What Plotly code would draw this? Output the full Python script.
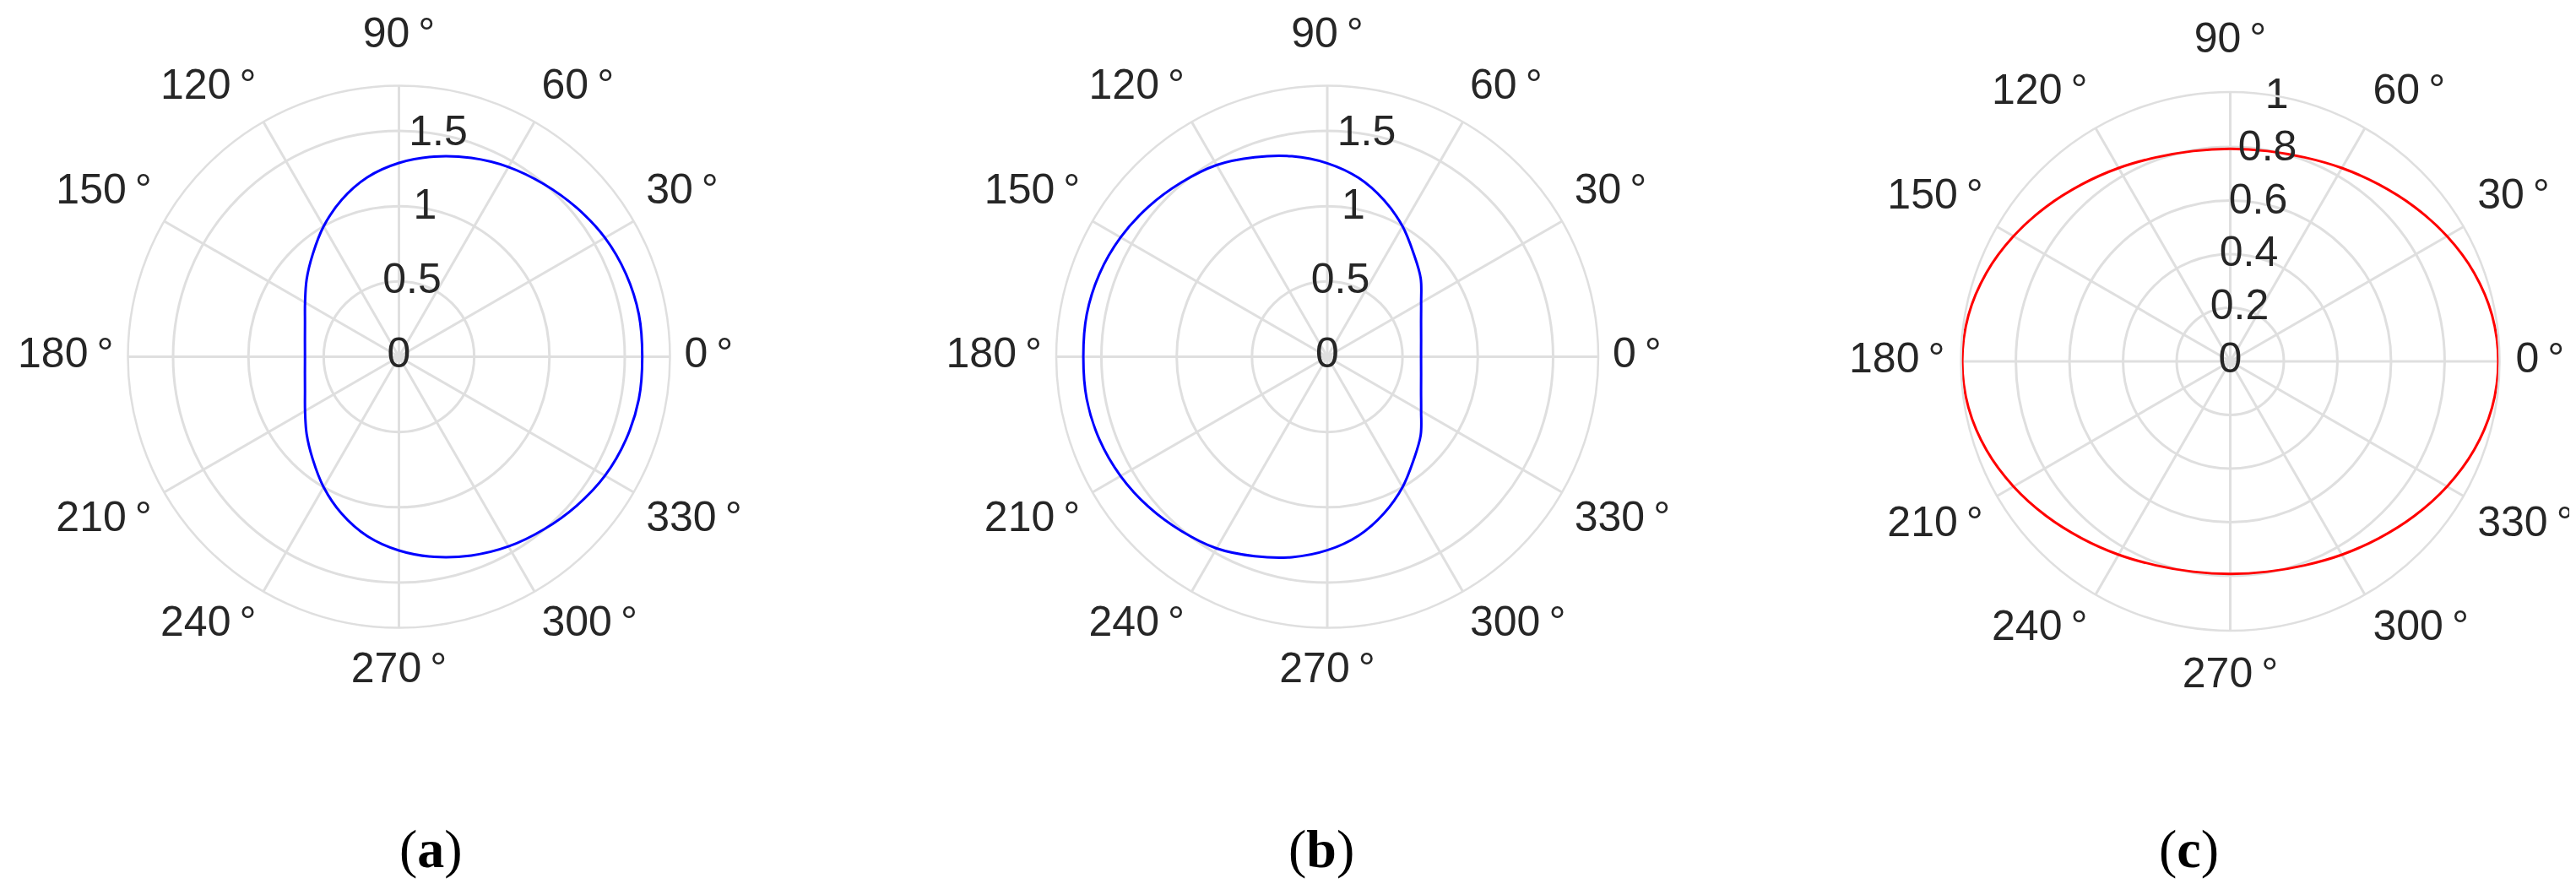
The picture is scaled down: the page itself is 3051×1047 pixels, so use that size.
import plotly.graph_objects as go

# angles (deg) at which the curves were read
theta_deg = [0, 10, 20, 30, 40, 50, 60, 70, 80, 90, 100, 110, 120, 130, 140, 150, 160, 170,
             180, 190, 200, 210, 220, 230, 240, 250, 260, 270, 280, 290, 300, 310, 320, 330, 340, 350]

# (a) blue, flat side on the left
r_a = [1.616, 1.618, 1.605, 1.58, 1.54, 1.497, 1.455, 1.405, 1.35, 1.287, 1.21, 1.11, 1.0, 0.89, 0.80, 0.72, 0.664, 0.634,
       0.624, 0.634, 0.664, 0.72, 0.80, 0.89, 1.0, 1.11, 1.21, 1.287, 1.35, 1.405, 1.455, 1.497, 1.54, 1.58, 1.605, 1.618]

# (b) blue, flat side on the right
r_b = [0.623, 0.633, 0.663, 0.72, 0.81, 0.893, 1.0, 1.105, 1.205, 1.285, 1.352, 1.41, 1.47, 1.51, 1.55, 1.585, 1.61, 1.622,
       1.62, 1.622, 1.61, 1.585, 1.55, 1.51, 1.47, 1.41, 1.352, 1.285, 1.205, 1.105, 1.0, 0.893, 0.81, 0.72, 0.663, 0.633]

# (c) red ellipse
r_c = [1.0, 0.992, 0.968, 0.934, 0.897, 0.862, 0.833, 0.81, 0.797, 0.793, 0.797, 0.81, 0.833, 0.862, 0.897, 0.934, 0.968, 0.992,
       1.0, 0.992, 0.968, 0.934, 0.897, 0.862, 0.833, 0.81, 0.797, 0.793, 0.797, 0.81, 0.833, 0.862, 0.897, 0.934, 0.968, 0.992]

ang_ticks = [0, 30, 60, 90, 120, 150, 180, 210, 240, 270, 300, 330]
ang_labels = ["0\u2009°", "30\u2009°", "60\u2009°", "90\u2009°", "120\u2009°", "150\u2009°",
              "180\u2009°", "210\u2009°", "240\u2009°", "270\u2009°", "300\u2009°", "330\u2009°"]
# which side of its anchor each angle label hangs on
ang_label_pos = ["middle right", "top right", "top right", "top center", "top left", "top left",
                 "middle left", "bottom left", "bottom left", "bottom center", "bottom right", "bottom right"]

r_ticks_ab = [0, 0.5, 1, 1.5]
r_labels_ab = ["0", "0.5", "1", "1.5"]
r_ticks_c = [0, 0.2, 0.4, 0.6, 0.8, 1]
r_labels_c = ["0", "0.2", "0.4", "0.6", "0.8", "1"]

panel_labels = ["(<b>a</b>)", "(<b>b</b>)", "(<b>c</b>)"]

GRID = "#dfdfdf"
TXT = "#262626"
FONT = "Liberation Sans"
W, H = 3051, 1047
LABEL_PX = 338      # anchor of the angle labels, px from the pole
OVERLAY_PX = 400    # radius of the invisible polar that carries them
# extra outward push for the labels straight above / below the pole (px)
LABEL_PUSH = {"top center": 16, "bottom center": 10}


def closed(theta, r):
    return list(theta) + [theta[0]], list(r) + [r[0]]


def dom(cx, cy, rad):
    return dict(x=[(cx - rad) / W, (cx + rad) / W],
                y=[(H - cy - rad) / H, (H - cy + rad) / H])


label_r = [(LABEL_PX + LABEL_PUSH.get(p, 0)) / OVERLAY_PX for p in ang_label_pos]

# centre x, centre y, ring radius (px), radial max, curve, colour, radial ticks, labels
panels = [
    (464.5, 414.5, 321, 1.8, r_a, "#0000ff", r_ticks_ab, r_labels_ab),
    (1564, 414.5, 321, 1.8, r_b, "#0000ff", r_ticks_ab, r_labels_ab),
    (2633.5, 420, 319, 1.005, r_c, "#ff0000", r_ticks_c, r_labels_c),
]

fig = go.Figure()
layout = {}

for i, (cx, cy, rad, rmax, r, col, rt, rl) in enumerate(panels):
    sub = "polar" if i == 0 else f"polar{i + 1}"
    over = f"polar{i + 4}"

    layout[sub] = dict(
        domain=dom(cx, cy, rad),
        bgcolor="white",
        angularaxis=dict(
            rotation=0, direction="counterclockwise",
            tickmode="array", tickvals=ang_ticks, showticklabels=False,
            showgrid=True, gridcolor=GRID, gridwidth=2.5,
            showline=True, linecolor=GRID, linewidth=2.5, ticks="",
        ),
        radialaxis=dict(
            range=[0, rmax], tickmode="array", tickvals=[v for v in rt if v < rmax - 0.01],
            showticklabels=False, showline=False, ticks="",
            showgrid=True, gridcolor=GRID, gridwidth=2.5,
        ),
    )
    layout[over] = dict(
        domain=dom(cx, cy, OVERLAY_PX),
        bgcolor="rgba(0,0,0,0)",
        angularaxis=dict(visible=False, rotation=0, direction="counterclockwise"),
        radialaxis=dict(visible=False, range=[0, 1]),
    )

    th, rr = closed(theta_deg, r)
    fig.add_trace(go.Scatterpolar(
        r=rr, theta=th, mode="lines", subplot=sub,
        line=dict(color=col, width=3, shape="spline", smoothing=1),
        cliponaxis=False, hoverinfo="skip"
    ))
    # radial tick labels centred on the 80 degree ray, MATLAB style
    fig.add_trace(go.Scatterpolar(
        r=rt, theta=[80] * len(rt), mode="text", subplot=sub,
        text=rl, textposition="middle center",
        textfont=dict(family=FONT, size=50, color=TXT),
        cliponaxis=False, hoverinfo="skip"
    ))
    # angle labels just outside the rim
    fig.add_trace(go.Scatterpolar(
        r=label_r, theta=ang_ticks, mode="text", subplot=over,
        text=ang_labels, textposition=ang_label_pos,
        textfont=dict(family=FONT, size=50, color=TXT),
        cliponaxis=False, hoverinfo="skip"
    ))

fig.update_layout(
    width=W, height=H,
    margin=dict(l=0, r=0, t=0, b=0),
    paper_bgcolor="white",
    showlegend=False,
    **layout,
)

for x, lab in zip([503, 1557, 2584], panel_labels):
    fig.add_annotation(
        x=x / W, y=(H - 997) / H, xref="paper", yref="paper",
        text=lab, showarrow=False, xanchor="center", yanchor="middle",
        font=dict(family="Liberation Serif", size=64, color="black"),
    )

fig.write_html("out.html")
